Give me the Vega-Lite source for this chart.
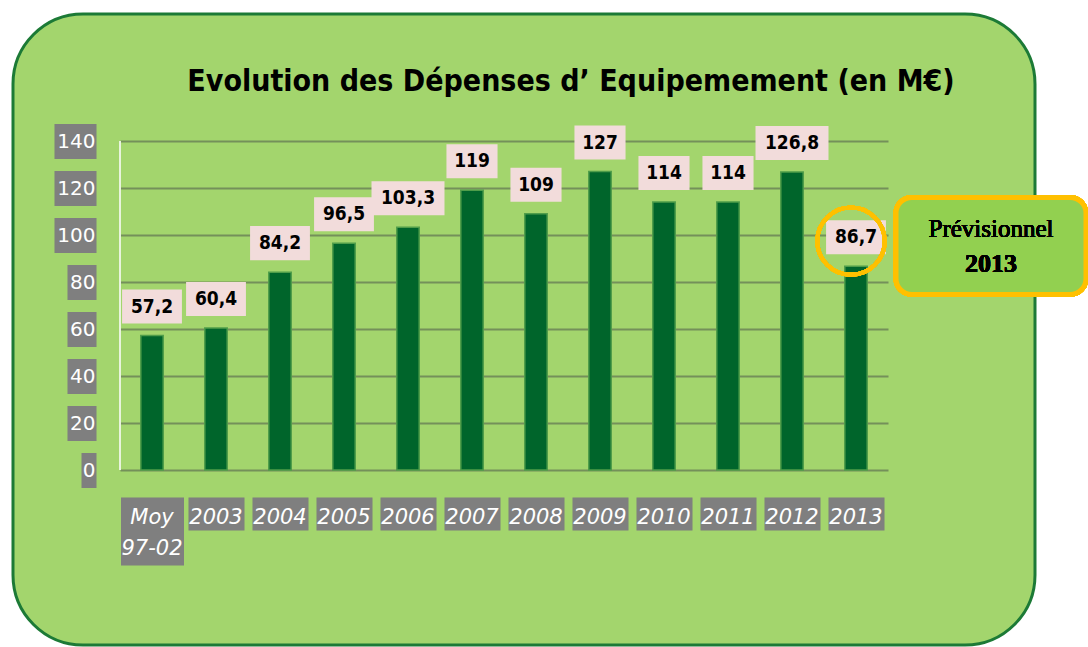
{
  "$schema": "https://vega.github.io/schema/vega-lite/v6.json",
  "width": 1022,
  "height": 631,
  "autosize": {"type": "none"},
  "padding": {"left": 13, "top": 14, "right": 53, "bottom": 2},
  "background": "white",
  "title": {
    "text": "Evolution des Dépenses d’ Equipemement (en M€)",
    "anchor": "middle",
    "frame": "group",
    "offset": -107,
    "dx": 47,
    "baseline": "alphabetic",
    "font": "DejaVu Sans Condensed",
    "fontWeight": "bold",
    "fontSize": 30,
    "color": "#000000"
  },
  "config": {
    "view": {"fill": "#a3d56d", "stroke": "#1c7a36", "strokeWidth": 3, "cornerRadius": 70},
    "axis": {"title": null}
  },
  "data": {
    "values": [
      {"cat": "Moy 97-02", "value": 57.2, "label": "57,2"},
      {"cat": "2003", "value": 60.4, "label": "60,4"},
      {"cat": "2004", "value": 84.2, "label": "84,2"},
      {"cat": "2005", "value": 96.5, "label": "96,5"},
      {"cat": "2006", "value": 103.3, "label": "103,3"},
      {"cat": "2007", "value": 119, "label": "119"},
      {"cat": "2008", "value": 109, "label": "109"},
      {"cat": "2009", "value": 127, "label": "127"},
      {"cat": "2010", "value": 114, "label": "114"},
      {"cat": "2011", "value": 114, "label": "114"},
      {"cat": "2012", "value": 126.8, "label": "126,8"},
      {"cat": "2013", "value": 86.7, "label": "86,7"}
    ]
  },
  "layer": [
    {
      "mark": {"type": "bar", "fill": "#00652b", "stroke": "#4f9d4a", "strokeWidth": 1.5},
      "encoding": {
        "x": {
          "field": "cat", "type": "nominal", "sort": null, "title": null,
          "scale": {"range": [107, 875], "paddingInner": 0.65, "paddingOuter": 0.325},
          "axis": {
            "orient": "bottom", "offset": -148, "domain": false, "grid": false,
            "ticks": true,
            "tickSize": {"condition": {"test": "datum.value === 'Moy 97-02'", "value": 68}, "value": 33},
            "tickWidth": {"condition": {"test": "datum.value === 'Moy 97-02'", "value": 63}, "value": 56},
            "tickColor": "#7f7f7f", "tickCap": "butt",
            "labelPadding": {"condition": {"test": "datum.value === 'Moy 97-02'", "value": -59}, "value": -24},
            "labelBaseline": "top", "labelAngle": 0,
            "labelFont": "DejaVu Sans", "labelFontSize": 21, "labelFontStyle": "italic",
            "labelColor": "#ffffff", "labelLineHeight": 31, "labelOverlap": false, "labelFlush": false,
            "labelExpr": "split(datum.label, ' ')"
          }
        },
        "y": {
          "field": "value", "type": "quantitative", "title": null,
          "scale": {"domain": [0, 140], "range": [456, 127], "nice": false, "zero": true},
          "axis": {
            "orient": "left", "offset": -83, "domain": false, "grid": true,
            "values": [0, 20, 40, 60, 80, 100, 120, 140],
            "gridColor": "#74905a", "gridWidth": 2,
            "ticks": true,
            "tickSize": {"condition": [{"test": "datum.value >= 100", "value": 42}, {"test": "datum.value >= 10", "value": 29}], "value": 15},
            "tickWidth": 35, "tickColor": "#7f7f7f", "tickCap": "butt",
            "labelPadding": {"condition": [{"test": "datum.value >= 100", "value": -41}, {"test": "datum.value >= 10", "value": -28}], "value": -14},
            "labelFont": "DejaVu Sans", "labelFontSize": 20,
            "labelColor": "#ffffff", "labelBaseline": "middle"
          }
        }
      }
    },
    {
      "mark": {"type": "rule", "color": "#e8f4dc", "strokeWidth": 2, "xOffset": -32},
      "encoding": {
        "x": {"datum": "Moy 97-02", "type": "nominal", "title": null},
        "y": {"datum": 0, "type": "quantitative", "title": null},
        "y2": {"datum": 140}
      }
    },
    {
      "mark": {"type": "point", "filled": true, "fill": "#f2dcdb", "opacity": 1, "strokeWidth": 0, "yOffset": -29, "size": 5329},
      "encoding": {
        "x": {"field": "cat", "type": "nominal", "sort": null, "title": null},
        "y": {"field": "value", "type": "quantitative", "title": null},
        "shape": {
          "condition": [
            {"test": "length(datum.label) >= 5", "value": "M-1,-0.466H1V0.466H-1Z"},
            {"test": "length(datum.label) == 4", "value": "M-0.82,-0.466H0.82V0.466H-0.82Z"}
          ],
          "value": "M-0.70,-0.466H0.70V0.466H-0.70Z"
        }
      }
    },
    {
      "mark": {"type": "text", "yOffset": -29, "font": "DejaVu Sans Condensed", "fontWeight": "bold", "fontSize": 19, "color": "#000000", "baseline": "middle", "align": "center"},
      "encoding": {
        "x": {"field": "cat", "type": "nominal", "sort": null, "title": null},
        "y": {"field": "value", "type": "quantitative", "title": null},
        "text": {"field": "label"}
      }
    },
    {
      "mark": {"type": "point", "shape": "circle", "filled": false, "stroke": "#ffc000", "strokeWidth": 4, "opacity": 1, "size": 4536, "xOffset": -5},
      "encoding": {
        "x": {"datum": "2013", "type": "nominal", "title": null},
        "y": {"datum": 97.4, "type": "quantitative", "title": null}
      }
    },
    {
      "mark": {"type": "bar", "width": 190, "xOffset": 135, "cornerRadius": 16, "fill": "#92d050", "stroke": "#ffc000", "strokeWidth": 5},
      "encoding": {
        "x": {"datum": "2013", "type": "nominal", "title": null},
        "y": {"datum": 116.0, "type": "quantitative", "title": null},
        "y2": {"datum": 74.7}
      }
    },
    {
      "mark": {"type": "text", "xOffset": 135, "font": "Liberation Serif", "fontSize": 25, "color": "#000000", "baseline": "middle", "align": "center"},
      "encoding": {
        "x": {"datum": "2013", "type": "nominal", "title": null},
        "y": {"datum": 102.6, "type": "quantitative", "title": null},
        "text": {"value": "Prévisionnel"}
      }
    },
    {
      "mark": {"type": "text", "xOffset": 135, "font": "Liberation Serif", "fontWeight": "bold", "fontSize": 26, "color": "#000000", "baseline": "middle", "align": "center"},
      "encoding": {
        "x": {"datum": "2013", "type": "nominal", "title": null},
        "y": {"datum": 87.7, "type": "quantitative", "title": null},
        "text": {"value": "2013"}
      }
    }
  ]
}
